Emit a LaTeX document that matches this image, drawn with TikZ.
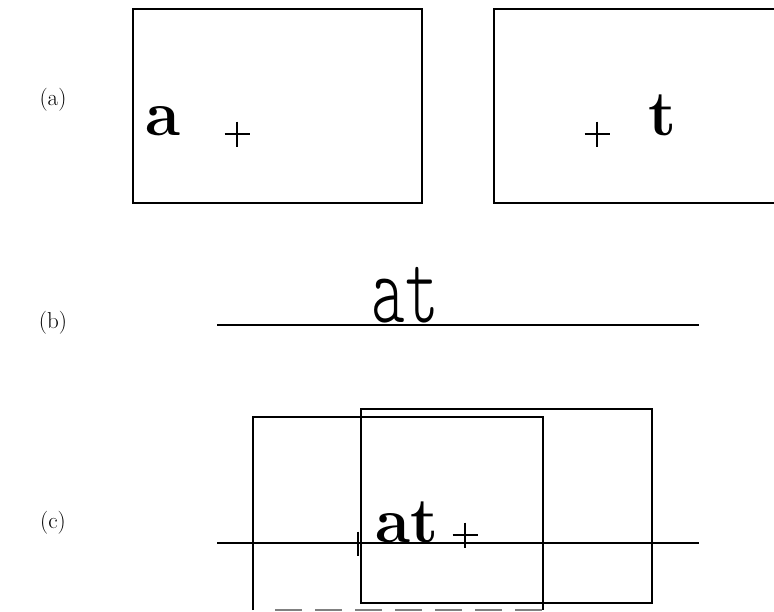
\documentclass[tikz,border=0pt]{standalone}
\usepackage{fontspec}
\usepackage{graphicx}
\begin{document}
\begin{tikzpicture}[x=1pt,y=-1pt,line width=1.8pt,
  lbl/.style={font=\fontsize{23}{26}\selectfont,inner sep=0pt},
  bigbold/.style={font=\fontsize{64}{70}\selectfont\bfseries,inner sep=0pt,anchor=base west},
  thin/.style={font=\fontsize{100}{104}\ttfamily\fontseries{l}\selectfont,inner sep=0pt,anchor=base west}]
\useasboundingbox (0,0) rectangle (774,611);
\clip (0,0) rectangle (774,611);
% (a)
\node[lbl] (la) at (53,100) {(a)};
\draw (133,9) rectangle (422,203);
\draw (494,9) rectangle (790,203);
\node[bigbold] (ta) at (145,135) {a};
\draw (224.5,134) -- (249.5,134) (237,121.5) -- (237,146.5);
\node[bigbold] (tt) at (648,135) {t};
\draw (584.5,134) -- (609.5,134) (597,121.5) -- (597,146.5);
% (b)
\node[lbl] (lb) at (53,323) {(b)};
\coordinate (bl) at (217,325);
\coordinate (br) at (699,325);
\draw (bl) -- (br);
\node[thin] (tb) at (371,322) {\scalebox{0.64}[1]{at}};
% (c)
\node[lbl] (lc) at (53,523) {(c)};
\draw (253,610) -- (253,417) -- (543,417) -- (543,610);
\draw[gray,line width=1.2pt,dash pattern=on 27pt off 13pt] (275,610) -- (543,610);
\draw (361,409) rectangle (652,603);
\coordinate (cl) at (217,543);
\coordinate (cr) at (699,543);
\draw (cl) -- (cr);
\draw (358,531.5) -- (358,555.5);
\node[bigbold] (tc) at (375,542) {at};
\draw (452.5,535) -- (477.5,535) (465,522.5) -- (465,547.5);
\end{tikzpicture}
\end{document}
